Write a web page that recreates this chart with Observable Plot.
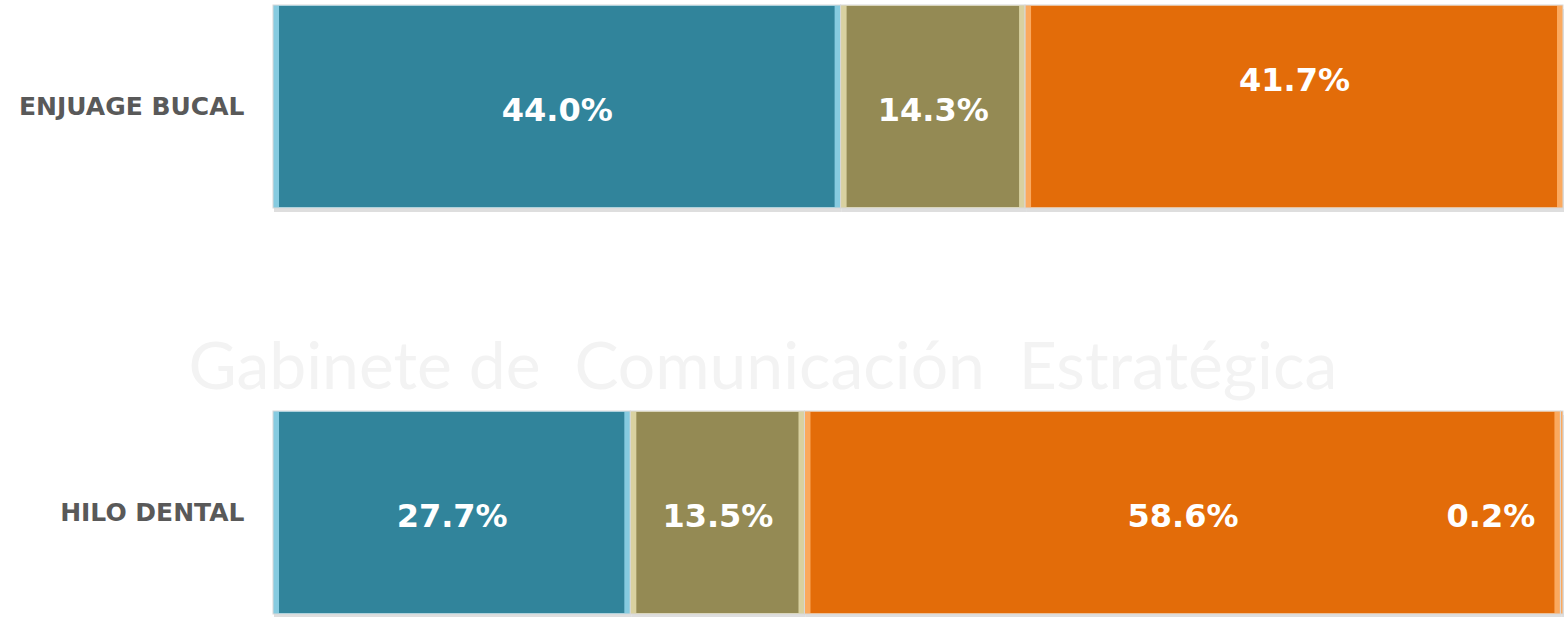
<!DOCTYPE html>
<html>
<head>
<meta charset="utf-8">
<script src="https://cdn.jsdelivr.net/npm/d3@7"></script>
<script src="https://cdn.jsdelivr.net/npm/@observablehq/plot@0.6"></script>
<style>
  html, body { margin: 0; padding: 0; background: #fff; }
  #chart svg { display: block; }
</style>
</head>
<body>
<div id="chart"></div>
<script>
const categories = ["ENJUAGE BUCAL", "HILO DENTAL"];
const series = ["s1", "s2", "s3", "s4"];
const enjuageValues = [44.0, 14.3, 41.7, 0];
const hiloValues = [27.7, 13.5, 58.6, 0.2];
const colors = ["#31849B", "#948A54", "#E36C09", "#E36C09"];
const edgeColors = ["#86CBE0", "#D9D1A0", "#FBA95E", "#FBA95E"];
const watermark = "Gabinete de  Comunicación  Estratégica";

const rows = [];
[enjuageValues, hiloValues].forEach((vals, i) => {
  vals.forEach((v, j) => rows.push({cat: categories[i], serie: series[j], value: v, label: v > 0 ? v.toFixed(1) + "%" : ""}));
});
const isRaised = d => d.cat === "ENJUAGE BUCAL" && d.serie === "s3";
const isTiny = d => d.serie === "s4";

const stackOpts = {x: "value", y: "cat", z: "serie", order: series};
const font = "'DejaVu Sans', sans-serif";
const edgeScale = d3.scaleOrdinal(series, edgeColors);

const chart = Plot.plot({
  width: 1566,
  height: 617,
  marginLeft: 273,
  marginRight: 3,
  marginTop: 5,
  marginBottom: 3,
  style: {fontFamily: font, background: "#fff"},
  x: {domain: [0, 100], axis: null},
  y: {domain: categories, padding: 0.5, paddingOuter: 0, label: null},
  color: {domain: series, range: colors},
  marks: [
    Plot.text([watermark], {frameAnchor: "left", dx: -85, dy: 58, text: d => d, fontSize: 66, fill: "#f3f3f3", textAnchor: "start", fontFamily: "Lato, sans-serif"}),
    Plot.barX(rows, Plot.stackX({...stackOpts, fill: "#c8c8c8", fillOpacity: 0.6, dy: 4, dx: 1})),
    Plot.barX(rows, Plot.stackX({...stackOpts, fill: d => edgeScale(d.serie), stroke: "#d8d8d8", strokeWidth: 1})),
    Plot.barX(rows, Plot.stackX({...stackOpts, fill: "serie", insetLeft: 6, insetRight: 6, insetTop: 1, insetBottom: 1})),
    Plot.text(rows, Plot.stackX({...stackOpts, text: d => (!isRaised(d) && !isTiny(d)) ? d.label : "", fill: "white", fontSize: 32, fontWeight: "bold", dy: 4})),
    Plot.text(rows, Plot.stackX({...stackOpts, text: d => isRaised(d) ? d.label : "", fill: "white", fontSize: 32, fontWeight: "bold", dy: -26})),
    Plot.text(rows, Plot.stackX({...stackOpts, text: d => isTiny(d) ? d.label : "", fill: "white", fontSize: 32, fontWeight: "bold", textAnchor: "end", dx: -27, dy: 4})),
    Plot.axisY({tickSize: 0, tickPadding: 29, fontSize: 25, fontWeight: "bold", fill: "#595959", label: null})
  ]
});
document.getElementById("chart").appendChild(chart);
</script>
</body>
</html>
